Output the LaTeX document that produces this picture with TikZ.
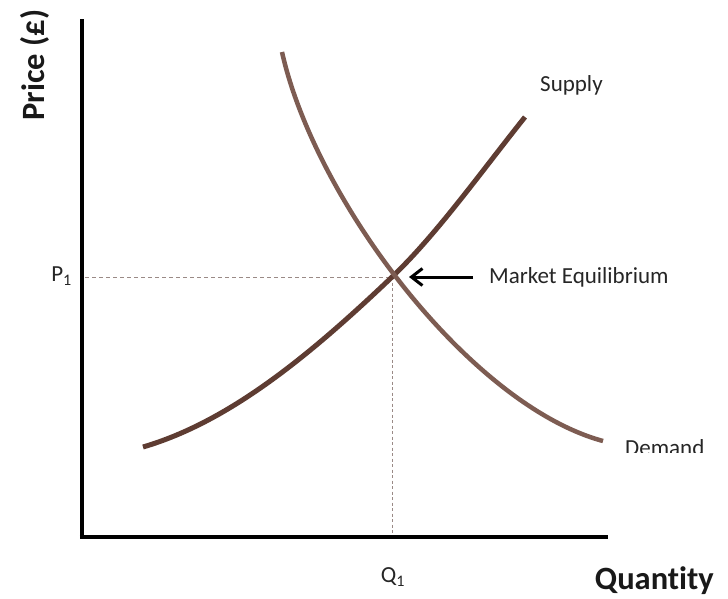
\documentclass[tikz,border=0pt]{standalone}
\usepackage{fontspec}
\setmainfont[Ligatures={NoCommon}]{Carlito}
\usetikzlibrary{arrows.meta}
\definecolor{supplyc}{HTML}{5E3C32}
\definecolor{demandc}{HTML}{7D5C52}
\definecolor{guidec}{HTML}{9A8A86}
\begin{document}
\begin{tikzpicture}[x=1pt,y=-1pt,
  axis/.style={line width=4.5pt,black},
  curvesup/.style={line width=5pt,supplyc},
  curvedem/.style={line width=4.5pt,demandc},
  guide/.style={line width=1pt,guidec,dash pattern=on 4pt off 3pt},
  lbl/.style={font=\fontsize{23}{26}\selectfont,text=black!85,inner sep=0pt},
  ttl/.style={font=\fontsize{32.5}{36}\selectfont\bfseries,text=black!90,inner sep=0pt}]
\useasboundingbox (0,0) rectangle (728,598);
\fill[white] (0,0) rectangle (728,598);
% axes
\coordinate (origin) at (82,537);
\coordinate (ytop) at (82,19);
\coordinate (xend) at (608,537);
\draw[axis] (ytop) -- (82,539.25);
\draw[axis] (79.75,537) -- (xend);
% equilibrium
\coordinate (eq) at (392,277);
\coordinate (pleft) at (85,277);
\coordinate (qbot) at (392,535);
\draw[guide] (pleft) -- (eq);
\draw[guide,dash pattern=on 3pt off 2.5pt] (eq) -- (qbot);
% curves
\coordinate (s0) at (143,447);
\coordinate (s1) at (525,117);
\coordinate (d0) at (282,52);
\coordinate (d1) at (603,441);
\draw[curvesup] (s0) .. controls (228,422) and (307,358) .. (eq)
                     .. controls (437,234) and (481,172) .. (s1);
\draw[curvedem] (d0) .. controls (315,200) and (470,405) .. (d1);
% labels
\node[lbl,anchor=west] (mkt) at (489,277) {Market Equilibrium};
\coordinate (arrtail) at (473,277);
\coordinate (arrtip) at (409,277);
\draw[line width=3pt,-{Straight Barb[length=11pt,width=17pt,line width=3pt]}] (arrtail) -- (arrtip);
\node[lbl,anchor=west] (sup) at (540,85) {Supply};
\begin{scope}
\clip (600,420) rectangle (728,452.5);
\node[lbl,anchor=west] (dem) at (625,448) {Demand};
\end{scope}
\node[lbl,anchor=east] (p1) at (72,276) {P\textsubscript{1}};
\node[lbl] (q1) at (393,577) {Q\textsubscript{1}};
\node[ttl,anchor=east] (qty) at (714,581) {Quantity};
\node[ttl,rotate=90] (price) at (35,65) {Price (£)};
\end{tikzpicture}
\end{document}
